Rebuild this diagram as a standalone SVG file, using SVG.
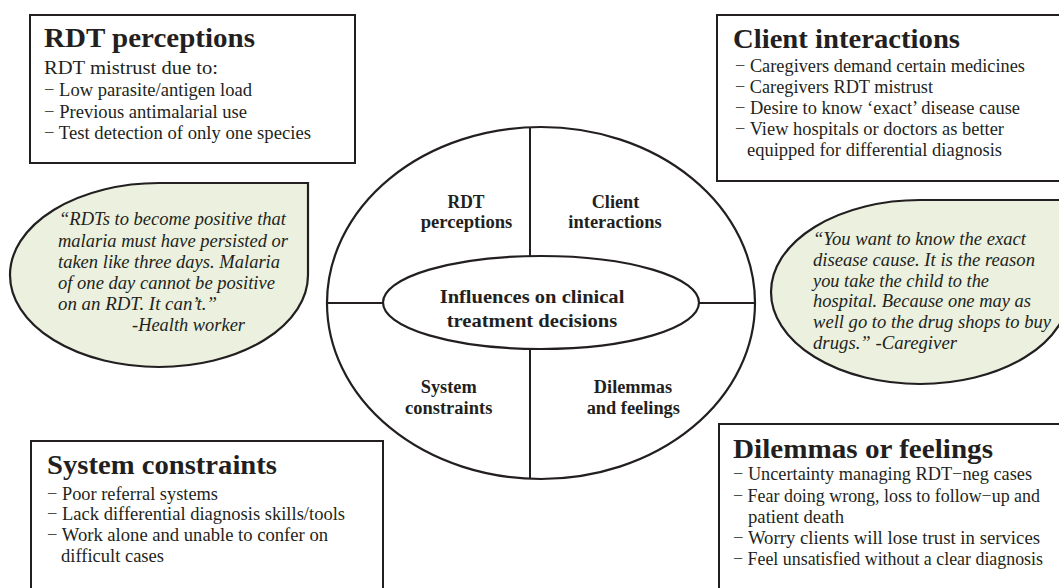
<svg xmlns="http://www.w3.org/2000/svg" width="1059" height="588" viewBox="0 0 1059 588">
<style>
  .box{fill:#ffffff;stroke:#231f20;stroke-width:2}
  .bubble{fill:#ebf1de;stroke:#231f20;stroke-width:2.2}
  .ell{fill:#ffffff;stroke:#231f20;stroke-width:2.2}
  .ln{stroke:#231f20;stroke-width:2;fill:none}
  text{font-family:"Liberation Serif","Times New Roman",serif;fill:#231f20}
  .title{font-size:28px;font-weight:bold}
  .body{font-size:18.5px}
  .quote{font-size:18.5px;font-style:italic}
  .lab{font-size:18.5px;font-weight:bold;text-anchor:middle}
  .core{font-size:19.5px;font-weight:bold;text-anchor:middle}
</style>
<rect width="1059" height="588" fill="#ffffff"/>

<g id="rdt-perceptions-box">
  <rect class="box" x="30" y="15" width="325" height="148"/>
  <text class="title" x="44" y="47" textLength="211" lengthAdjust="spacingAndGlyphs">RDT perceptions</text>
  <text class="body" x="44" y="74" style="font-size:19.5px" textLength="174" lengthAdjust="spacingAndGlyphs">RDT mistrust due to:</text>
  <text class="body" x="44" y="96" textLength="208" lengthAdjust="spacingAndGlyphs">− Low parasite/antigen load</text>
  <text class="body" x="44" y="118" textLength="203" lengthAdjust="spacingAndGlyphs">− Previous antimalarial use</text>
  <text class="body" x="44" y="139" textLength="267" lengthAdjust="spacingAndGlyphs">− Test detection of only one species</text>
</g>

<g id="client-interactions-box">
  <rect class="box" x="717" y="15" width="400" height="166"/>
  <text class="title" x="733" y="48" textLength="227" lengthAdjust="spacingAndGlyphs">Client interactions</text>
  <text class="body" x="735" y="71.7" textLength="290" lengthAdjust="spacingAndGlyphs">− Caregivers demand certain medicines</text>
  <text class="body" x="735" y="92.5" textLength="198" lengthAdjust="spacingAndGlyphs">− Caregivers RDT mistrust</text>
  <text class="body" x="735" y="113.5" textLength="285" lengthAdjust="spacingAndGlyphs">− Desire to know ‘exact’ disease cause</text>
  <text class="body" x="735" y="134.5" textLength="269" lengthAdjust="spacingAndGlyphs">− View hospitals or doctors as better</text>
  <text class="body" x="747" y="155.5" textLength="255" lengthAdjust="spacingAndGlyphs">equipped for differential diagnosis</text>
</g>

<g id="health-worker-quote">
  <path class="bubble" d="M308,183 L308,275 A149,92 0 0 1 159,367 A149,92 0 0 1 10,275 A149,92 0 0 1 159,183 Z"/>
  <text class="quote" x="59" y="225" textLength="227" lengthAdjust="spacingAndGlyphs">“RDTs to become positive that</text>
  <text class="quote" x="58" y="246.5" textLength="230" lengthAdjust="spacingAndGlyphs">malaria must have persisted or</text>
  <text class="quote" x="58" y="267.5" textLength="222" lengthAdjust="spacingAndGlyphs">taken like three days. Malaria</text>
  <text class="quote" x="58" y="288.5" textLength="217" lengthAdjust="spacingAndGlyphs">of one day cannot be positive</text>
  <text class="quote" x="58" y="309.5" textLength="159" lengthAdjust="spacingAndGlyphs">on an RDT. It can’t.”</text>
  <text class="quote" x="132" y="331" textLength="113" lengthAdjust="spacingAndGlyphs">-Health worker</text>
</g>

<g id="caregiver-quote">
  <path class="bubble" d="M1069,200 L1069,292 A149,92 0 0 1 920,384 A149,92 0 0 1 771,292 A149,92 0 0 1 920,200 Z"/>
  <text class="quote" x="813" y="244.5" textLength="213" lengthAdjust="spacingAndGlyphs">“You want to know the exact</text>
  <text class="quote" x="813" y="265.5" textLength="222" lengthAdjust="spacingAndGlyphs">disease cause. It is the reason</text>
  <text class="quote" x="813" y="286.5" textLength="176" lengthAdjust="spacingAndGlyphs">you take the child to the</text>
  <text class="quote" x="813" y="307.3" textLength="218" lengthAdjust="spacingAndGlyphs">hospital. Because one may as</text>
  <text class="quote" x="813" y="328" textLength="238" lengthAdjust="spacingAndGlyphs">well go to the drug shops to buy</text>
  <text class="quote" x="813" y="348.5" textLength="144" lengthAdjust="spacingAndGlyphs">drugs.” -Caregiver</text>
</g>

<g id="influences-oval">
  <ellipse class="ell" cx="541" cy="303" rx="214" ry="176"/>
</g>

<g id="connectors">
  <line class="ln" x1="530" y1="127" x2="530" y2="256"/>
  <line class="ln" x1="530" y1="349" x2="530" y2="479"/>
  <line class="ln" x1="327" y1="303" x2="383" y2="303"/>
  <line class="ln" x1="699" y1="303" x2="755" y2="303"/>
</g>

<g id="center-core">
  <ellipse class="ell" cx="541" cy="302.5" rx="158" ry="46.5"/>
  <text class="core" x="532" y="303" textLength="184.7" lengthAdjust="spacingAndGlyphs">Influences on clinical</text>
  <text class="core" x="532" y="326.5" textLength="170.7" lengthAdjust="spacingAndGlyphs">treatment decisions</text>
</g>

<g id="quadrant-rdt">
  <text class="lab" x="466" y="208" textLength="37" lengthAdjust="spacingAndGlyphs">RDT</text>
  <text class="lab" x="466.5" y="228" textLength="91.7" lengthAdjust="spacingAndGlyphs">perceptions</text>
</g>
<g id="quadrant-client">
  <text class="lab" x="615.5" y="208" textLength="47.6" lengthAdjust="spacingAndGlyphs">Client</text>
  <text class="lab" x="615" y="228" textLength="93.3" lengthAdjust="spacingAndGlyphs">interactions</text>
</g>
<g id="quadrant-system">
  <text class="lab" x="448.7" y="393" textLength="56" lengthAdjust="spacingAndGlyphs">System</text>
  <text class="lab" x="448.7" y="414" textLength="87.3" lengthAdjust="spacingAndGlyphs">constraints</text>
</g>
<g id="quadrant-dilemmas">
  <text class="lab" x="633" y="393" textLength="78.3" lengthAdjust="spacingAndGlyphs">Dilemmas</text>
  <text class="lab" x="633.3" y="414" textLength="93.3" lengthAdjust="spacingAndGlyphs">and feelings</text>
</g>

<g id="system-constraints-box">
  <rect class="box" x="31" y="441" width="352" height="160"/>
  <text class="title" x="47" y="474" textLength="230" lengthAdjust="spacingAndGlyphs">System constraints</text>
  <text class="body" x="47" y="499.5" textLength="171" lengthAdjust="spacingAndGlyphs">− Poor referral systems</text>
  <text class="body" x="47" y="520.3" textLength="298" lengthAdjust="spacingAndGlyphs">− Lack differential diagnosis skills/tools</text>
  <text class="body" x="47" y="541" textLength="281" lengthAdjust="spacingAndGlyphs">− Work alone and unable to confer on</text>
  <text class="body" x="61" y="561.8" textLength="103" lengthAdjust="spacingAndGlyphs">difficult cases</text>
</g>

<g id="dilemmas-box">
  <rect class="box" x="719" y="424" width="400" height="200"/>
  <text class="title" x="733" y="458" textLength="260" lengthAdjust="spacingAndGlyphs">Dilemmas or feelings</text>
  <text class="body" x="733" y="480" textLength="299" lengthAdjust="spacingAndGlyphs">− Uncertainty managing RDT−neg cases</text>
  <text class="body" x="733" y="501.5" textLength="307" lengthAdjust="spacingAndGlyphs">− Fear doing wrong, loss to follow−up and</text>
  <text class="body" x="748" y="522.5" textLength="96" lengthAdjust="spacingAndGlyphs">patient death</text>
  <text class="body" x="733" y="543.5" textLength="307" lengthAdjust="spacingAndGlyphs">− Worry clients will lose trust in services</text>
  <text class="body" x="733" y="564.5" textLength="310" lengthAdjust="spacingAndGlyphs">− Feel unsatisfied without a clear diagnosis</text>
</g>
</svg>
